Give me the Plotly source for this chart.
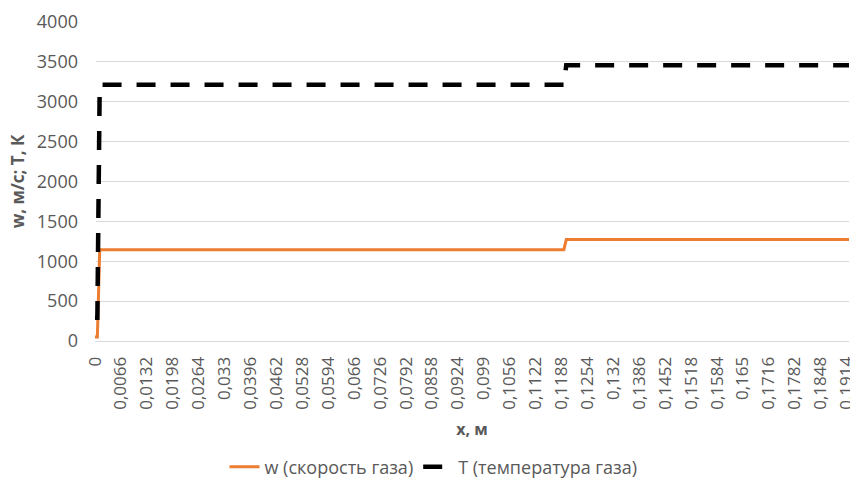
import plotly.graph_objects as go

# Data
x_vals = [0.0, 0.0006, 0.0012, 0.1194, 0.1200, 0.1920]
w_vals = [50, 50, 1145, 1145, 1272, 1272]          # w (скорость газа), м/с
t_vals = [293, 293, 3212, 3212, 3458, 3458]        # T (температура газа), К

tick_vals = [round(0.0066 * i, 4) for i in range(30)]
tick_text = ["0", "0,0066", "0,0132", "0,0198", "0,0264", "0,033", "0,0396", "0,0462",
             "0,0528", "0,0594", "0,066", "0,0726", "0,0792", "0,0858", "0,0924", "0,099",
             "0,1056", "0,1122", "0,1188", "0,1254", "0,132", "0,1386", "0,1452", "0,1518",
             "0,1584", "0,165", "0,1716", "0,1782", "0,1848", "0,1914"]

font_family = "Open Sans"
txt = "#595959"

fig = go.Figure()
fig.add_trace(go.Scatter(x=x_vals, y=w_vals, mode="lines", name="w (скорость газа)",
                         line=dict(color="#ED7D31", width=3)))
fig.add_trace(go.Scatter(x=x_vals, y=t_vals, mode="lines", name="T (температура газа)",
                         line=dict(color="#000000", width=4.5, dash="19px,15px")))

fig.update_layout(
    width=850, height=482,
    margin=dict(l=95, r=1, t=22, b=141),
    paper_bgcolor="white", plot_bgcolor="white",
    font=dict(family=font_family, size=17, color=txt),
    showlegend=True,
    legend=dict(orientation="h", xref="container", yref="container",
                x=0.51, xanchor="center", y=0.031, yanchor="middle",
                font=dict(size=18, color=txt), tracegroupgap=0),
)
fig.update_xaxes(
    range=[0, 0.192], tickmode="array", tickvals=tick_vals, ticktext=tick_text,
    tickangle=-90, tickfont=dict(size=17, color=txt), showgrid=False,
    showline=True, linecolor="#d9d9d9", linewidth=1, ticks="", ticklabelstandoff=8,
    ticklabeloverflow="allow", automargin=False,
    title=dict(text="<b>x, м</b>", font=dict(size=16, color=txt), standoff=14),
)
fig.update_yaxes(
    range=[0, 4000], tickvals=[0, 500, 1000, 1500, 2000, 2500, 3000, 3500, 4000],
    tickfont=dict(size=18, color=txt), showgrid=True, gridcolor="#d9d9d9", gridwidth=1,
    zeroline=False, ticks="", ticklabelstandoff=16, automargin=False,
    title=dict(text="<b>w, м/с; T, К</b>", font=dict(size=17, color=txt), standoff=7),
)

fig.write_html("out.html", config={"displayModeBar": False},
               post_script="document.body.style.margin='0';")
